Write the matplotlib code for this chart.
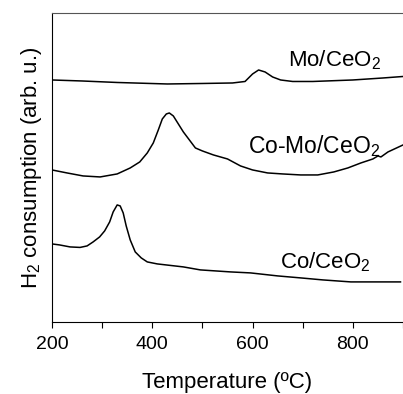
import matplotlib
matplotlib.use('Agg')
import matplotlib.pyplot as plt
from matplotlib.ticker import MultipleLocator

plt.rcParams['font.family'] = ['Liberation Sans', 'DejaVu Sans']
plt.rcParams['mathtext.fontset'] = 'custom'
plt.rcParams['mathtext.rm'] = 'Liberation Sans'
plt.rcParams['mathtext.it'] = 'Liberation Sans:italic'

# H2-TPR profiles (signal in arb. u.)
t_mo = [200, 260, 330, 430, 500, 560, 585, 600, 612, 625, 640, 656, 680, 720, 800, 860, 900]
s_mo = [242, 241, 239.5, 238, 238.5, 239, 240.5, 248, 252, 250, 245, 242, 240.5, 240.5, 242, 244, 245.5]

t_como = [200, 230, 262, 296, 330, 356, 375, 390, 402, 412, 420, 428, 434, 442, 452, 462, 474,
          486, 500, 522, 550, 576, 600, 630, 660, 696, 730, 762, 790, 816, 840, 850, 856, 870, 900]
s_como = [152, 149, 146, 145, 148, 154, 160, 169, 179, 192, 203, 208, 209, 206, 198, 190, 182,
          174, 171, 167, 163, 156, 152, 149, 148, 147, 147, 150, 154, 159, 163, 166, 165, 170, 177]

t_co = [200, 215, 236, 256, 270, 282, 295, 305, 315, 322, 330, 336, 342, 348, 356, 366, 378,
        390, 410, 462, 496, 556, 596, 650, 696, 740, 796, 850, 895]
s_co = [78, 77, 75, 74.5, 76, 80, 85, 91, 100, 110, 117, 116, 109, 96, 82, 70, 64,
        60, 58, 55, 52, 50, 49, 46, 44, 42, 40, 40, 40]

labels = ['Mo/CeO$_2$', 'Co-Mo/CeO$_2$', 'Co/CeO$_2$']

fig = plt.figure(figsize=(4.03, 3.94), dpi=100)
ax = fig.add_axes([0.129, 0.183, 0.871, 0.784])

ax.plot(t_mo, s_mo, color='black', lw=1.1)
ax.plot(t_como, s_como, color='black', lw=1.1)
ax.plot(t_co, s_co, color='black', lw=1.1)

ax.text(670, 256, labels[0], fontsize=16, va='baseline', ha='left')
ax.text(590, 169, labels[1], fontsize=16.5, va='baseline', ha='left')
ax.text(654, 54, labels[2], fontsize=16, va='baseline', ha='left')

ax.set_xlim(200, 900)
ax.set_ylim(0, 309)
ax.xaxis.set_major_locator(MultipleLocator(200))
ax.xaxis.set_minor_locator(MultipleLocator(100))
ax.tick_params(axis='x', which='both', direction='out', length=4.5, width=0.8, labelsize=14, pad=6)
ax.set_yticks([])
ax.spines['right'].set_visible(False)
ax.spines['top'].set_color('#555555')

ax.set_xlabel('Temperature (ºC)', fontsize=16, labelpad=13)
ax.set_ylabel('H$_2$ consumption (arb. u.)', fontsize=16, labelpad=6)

fig.savefig('out.png', dpi=100)
